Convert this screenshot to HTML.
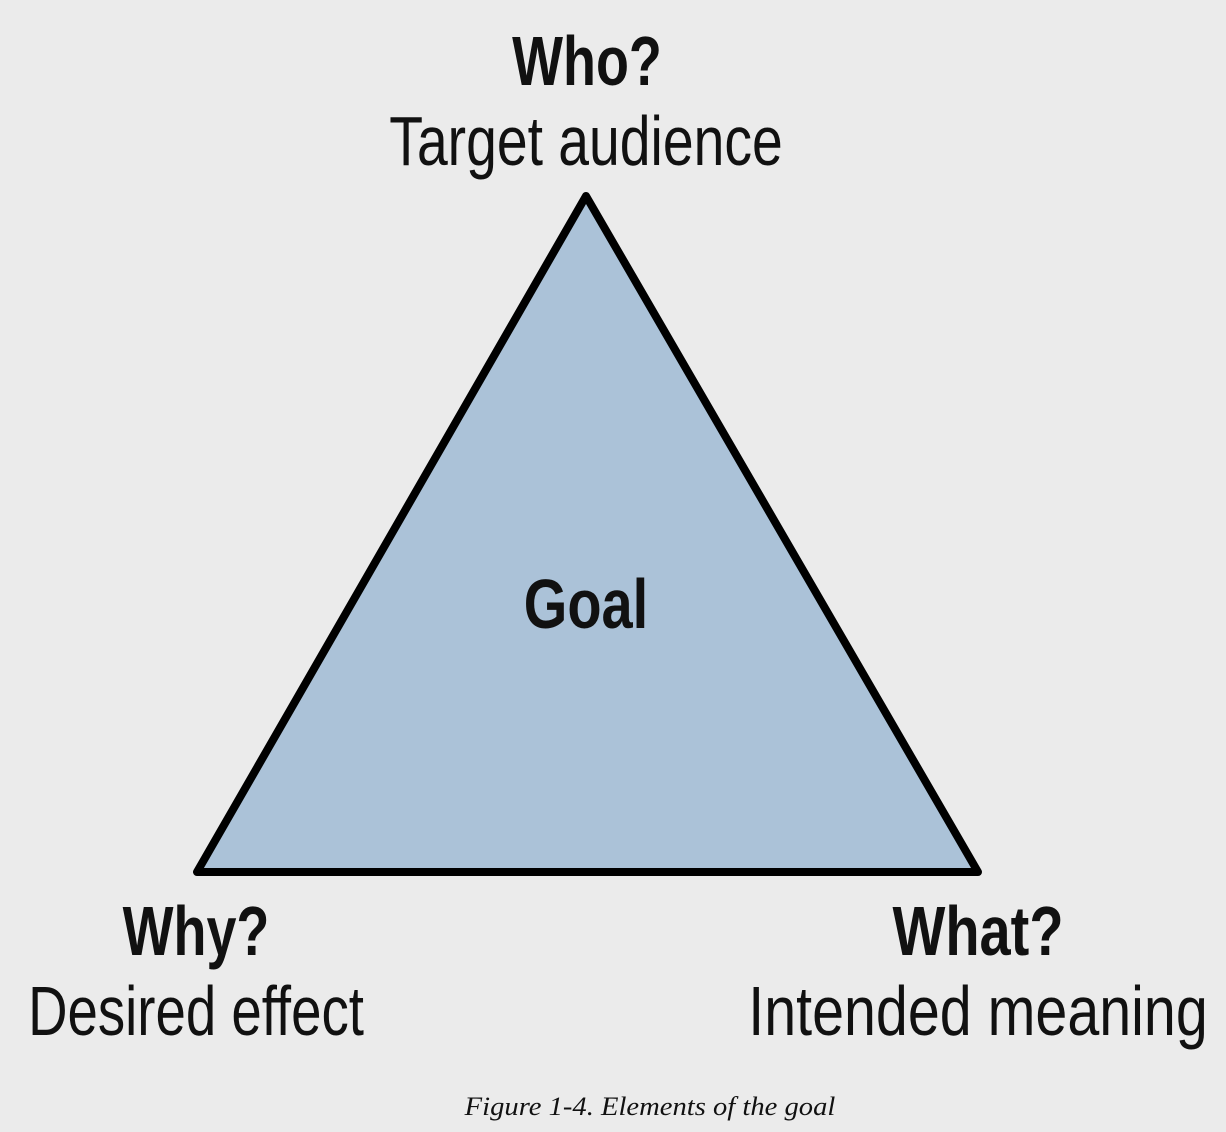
<!DOCTYPE html>
<html><head><style>
html,body{margin:0;padding:0;background:#ebebeb;}
svg{display:block;}
</style></head><body>
<svg width="1226" height="1132" viewBox="0 0 1226 1132" xmlns="http://www.w3.org/2000/svg">
<rect width="1226" height="1132" fill="#ebebeb"/>
<polygon points="586,196 197,872 978,872" fill="#abc2d8" stroke="#000" stroke-width="8" stroke-linejoin="round"/>
<g font-family="Liberation Sans, sans-serif" fill="#111" text-anchor="middle" font-size="70">
<text transform="translate(587,85) scale(0.77,1)" font-weight="bold">Who?</text>
<text transform="translate(586,165) scale(0.79,1)">Target audience</text>
<text transform="translate(586,628) scale(0.8,1)" font-weight="bold">Goal</text>
<text transform="translate(196,955) scale(0.77,1)" font-weight="bold">Why?</text>
<text transform="translate(196,1035) scale(0.78,1)">Desired effect</text>
<text transform="translate(978,955) scale(0.8,1)" font-weight="bold">What?</text>
<text transform="translate(978,1035) scale(0.82,1)">Intended meaning</text>
</g>
<text transform="translate(650,1115) scale(1.1,1)" text-anchor="middle" font-family="Liberation Serif, serif" font-style="italic" font-size="26" fill="#111">Figure 1-4. Elements of the goal</text>
</svg>
</body></html>
